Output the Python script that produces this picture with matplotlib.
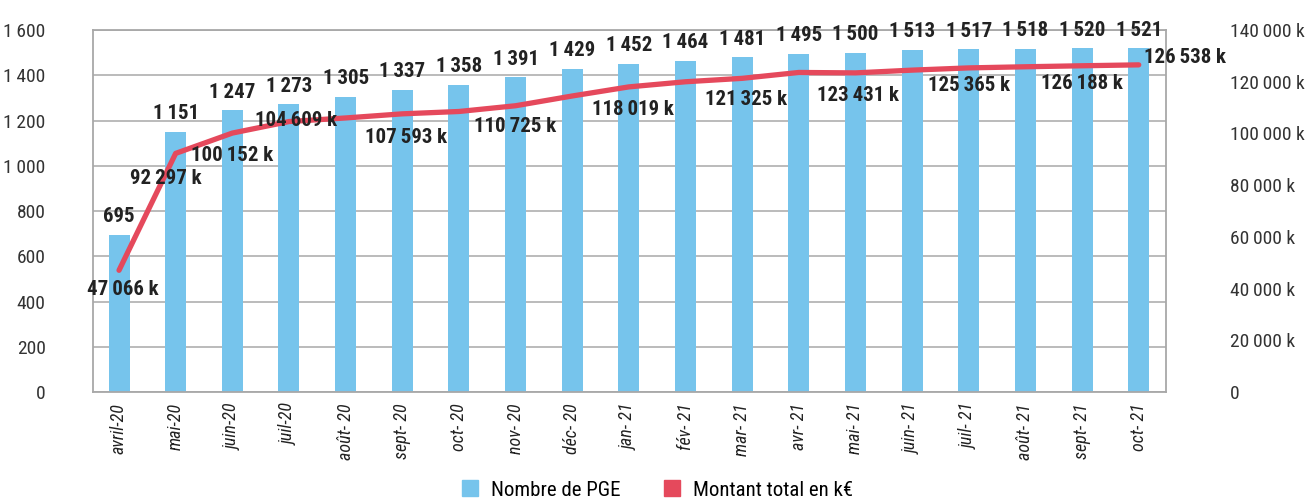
import matplotlib.pyplot as plt
import numpy as np
from matplotlib import font_manager
from matplotlib.lines import Line2D
from matplotlib.ticker import FuncFormatter

mois = ['avril-20', 'mai-20', 'juin-20', 'juil-20', 'août- 20', 'sept- 20', 'oct- 20',
        'nov- 20', 'déc- 20', 'jan- 21', 'fév- 21', 'mar- 21', 'avr- 21', 'mai- 21',
        'juin- 21', 'juil- 21', 'août- 21', 'sept- 21', 'oct- 21']
nb_pge = [695, 1151, 1247, 1273, 1305, 1337, 1358, 1391, 1429, 1452, 1464, 1481,
          1495, 1500, 1513, 1517, 1518, 1520, 1521]
# montant cumulé en k€ (valeurs non étiquetées estimées sur le graphique)
montant = [47066, 92297, 100152, 104609, 106000, 107593, 108500, 110725, 114500,
           118019, 120000, 121325, 123600, 123431, 124500, 125365, 125800, 126188, 126538]
# points dont la valeur est affichée
montant_lbl = [0, 1, 2, 3, 5, 7, 9, 11, 13, 15, 17, 18]

BLEU = '#76C4EC'
ROUGE = '#E5495C'

# police étroite si disponible
noms = {f.name for f in font_manager.fontManager.ttflist}
if 'Roboto Condensed' in noms:
    FAM = 'Roboto Condensed'
elif 'Liberation Sans Narrow' in noms:
    FAM = 'Liberation Sans Narrow'
else:
    FAM = 'Roboto'
plt.rcParams['font.family'] = [FAM, 'DejaVu Sans']


def fmt(v):
    return f"{int(v):,}".replace(',', '\u2009')


fig = plt.figure(figsize=(13.13, 5.01), dpi=100)
ax = fig.add_axes([0.0708, 0.2176, 0.8172, 0.7224])
x = np.arange(len(nb_pge))
ax.bar(x, nb_pge, width=0.37, color=BLEU, zorder=2)
ax.set_ylim(0, 1600)
ax.set_yticks(range(0, 1601, 200))
ax.yaxis.set_major_formatter(FuncFormatter(lambda v, p: fmt(v)))
ax.set_xlim(-0.46, len(nb_pge) - 0.52)
ax.set_xticks(x)
ax.set_xticklabels(mois, rotation=90, fontstyle='italic', fontsize=13, color='#222222')
ax.grid(axis='y', color='#b5b5b5', linewidth=1.3, zorder=0)
ax.tick_params(axis='y', length=0, pad=34, labelsize=14, labelcolor='#333333')
ax.tick_params(axis='x', length=0, pad=8)
for s in ax.spines.values():
    s.set_color('#a8a8a8')
    s.set_linewidth(1.3)

for xi, v in zip(x, nb_pge):
    ax.annotate(fmt(v), (xi, v), textcoords='offset points', xytext=(0, 6),
                ha='center', va='bottom', fontsize=15, fontweight='bold', color='#222222')

ax2 = ax.twinx()
ax2.plot(x, montant, color=ROUGE, linewidth=3.8, solid_capstyle='round', zorder=3)
ax2.set_ylim(0, 140000)
ax2.set_yticks(range(0, 140001, 20000))
ax2.yaxis.set_major_formatter(FuncFormatter(lambda v, p: '0' if v == 0 else fmt(v) + ' k'))
ax2.tick_params(axis='y', length=0, pad=46, labelsize=14, labelcolor='#333333')
for s in ax2.spines.values():
    s.set_visible(False)

# décalages des étiquettes (points)
decal = [(3, -14), (-7, -18), (0, -16), (5, 1), (3, -17), (0, -15), (3, -16),
         (3, -15), (2, -16), (0, -13), (0, -13), (33, 5)]
for i, (dx, dy) in zip(montant_lbl, decal):
    ax2.annotate(fmt(montant[i]) + ' k', (x[i], montant[i]), textcoords='offset points',
                 xytext=(dx, dy), ha='center', va='center', fontsize=15,
                 fontweight='bold', color='#222222', zorder=4)

handles = [Line2D([], [], color=BLEU, marker='s', markersize=11, linestyle='none'),
           Line2D([], [], color=ROUGE, marker='s', markersize=11, linestyle='none')]
fig.legend(handles, ['Nombre de PGE', 'Montant total en k€'], loc='lower center',
           bbox_to_anchor=(0.5, -0.035), ncol=2, frameon=False, fontsize=15,
           handletextpad=0.5, columnspacing=2.0, handlelength=1.0)

fig.savefig('out.png', dpi=100)
